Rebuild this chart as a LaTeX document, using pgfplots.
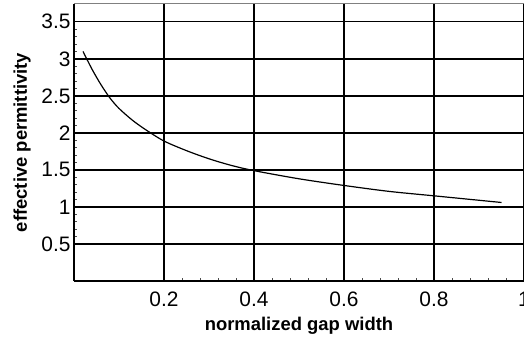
\documentclass[border=0pt]{standalone}
\usepackage{pgfplots}
\pgfplotsset{compat=1.18}
\usepackage{fontspec}
\setmainfont{Liberation Sans}
\begin{document}
\begin{tikzpicture}
\begin{axis}[
  scale only axis,
  width=450bp, height=277bp,
  xmin=0, xmax=1, ymin=0, ymax=3.74,
  xtick={0.2,0.4,0.6,0.8,1},
  xticklabels={0.2,0.4,0.6,0.8,1},
  ytick={0.5,1,1.5,2,2.5,3,3.5},
  yticklabels={0.5,1,1.5,2,2.5,3,3.5},
  /pgf/number format/assume math mode=true,
  minor x tick num=4, minor y tick num=4,
  tick align=inside,
  major tick length=0pt,
  minor tick length=3pt,
  every minor tick/.style={black!70, line width=0.6pt},
  grid=major,
  major grid style={black, line width=1.4pt},
  axis x line*=bottom, axis y line*=left,
  axis line style={black, line width=1.5pt, -},
  xticklabel style={font=\fontsize{21}{21}\selectfont, anchor=base, yshift=-25bp},
  yticklabel style={font=\fontsize{21}{21}\selectfont},
  xlabel={\textbf{normalized gap width}},
  ylabel={\textbf{effective permittivity}},
  label style={font=\fontsize{18.5}{19}\selectfont},
  xlabel style={at={(axis description cs:0.5,0)}, anchor=base, yshift=-49bp},
  ylabel style={at={(axis description cs:0,0.5)}, anchor=base, yshift=47bp},
  clip=false,
]
\addplot[black, line width=1.2pt, smooth] coordinates {
(0.02,3.10) (0.04,2.86) (0.06,2.65) (0.08,2.47) (0.10,2.33)
(0.13,2.17) (0.16,2.04) (0.20,1.89) (0.25,1.76) (0.30,1.65)
(0.35,1.56) (0.40,1.49) (0.50,1.38) (0.60,1.29) (0.70,1.21)
(0.80,1.15) (0.90,1.09) (0.95,1.06)
};
\draw[black!50, line width=1pt] (axis cs:0,3.74) -- (axis cs:1,3.74);
\end{axis}
\pgfresetboundingbox
\path[use as bounding box] ([shift={(-74bp,-60bp)}]current axis.south west) rectangle ([shift={(0bp,4bp)}]current axis.north east);
\end{tikzpicture}
\end{document}
